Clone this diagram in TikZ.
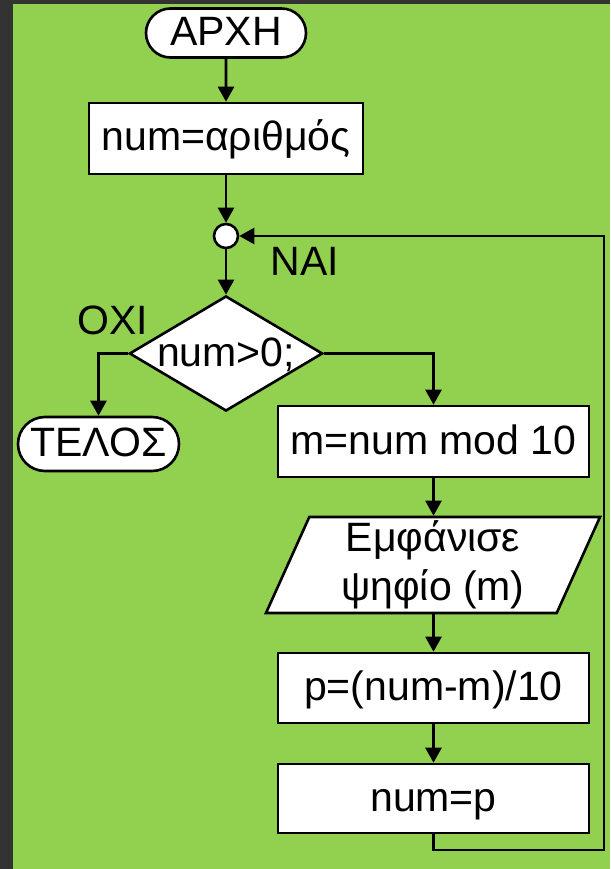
\documentclass[tikz,border=0pt]{standalone}
\usepackage{fontspec}
\setmainfont{Liberation Sans}
\usetikzlibrary{shapes.geometric,shapes.misc,arrows.meta}
\definecolor{bgdark}{HTML}{333333}
\definecolor{bggreen}{HTML}{92D050}
\begin{document}
\begin{tikzpicture}[x=1pt,y=-1pt,
  every node/.style={font=\fontsize{41}{49}\selectfont, inner sep=0pt},
  tx/.style={text height=29pt, text depth=4pt},
  shp/.style={draw=black, fill=white, line width=2.6pt},
  proc/.style={shp, tx, rectangle, minimum width=311pt, minimum height=70pt},
  term/.style={shp, tx, rounded rectangle, minimum height=48pt},
  conn/.style={line width=2.6pt, -{Triangle[length=15pt,width=16pt]}}]
\fill[bgdark] (0,0) rectangle (610,869);
\fill[bggreen] (13,4) rectangle (610,869);
\useasboundingbox (0,0) rectangle (610,869);

\node[term, minimum width=160pt, minimum height=49pt] (start) at (226,33) {ΑΡΧΗ};
\node[proc, minimum width=274pt, minimum height=71pt] (init) at (226,138.5) {num=αριθμός};
\node[shp, circle, minimum size=24pt] (join) at (226,236) {};
\node[shp, tx, diamond, minimum width=190pt, minimum height=113pt, shape aspect=1.68] (cond) at (226,353.5) {num>0;};
\node[term, minimum width=161pt, minimum height=54pt] (end) at (98.5,444) {ΤΕΛΟΣ};
\node[proc, minimum height=71pt] (mod) at (433.5,441.5) {m=num mod 10};
\node[shp, trapezium, trapezium left angle=63.9, trapezium right angle=116.1,
      trapezium stretches body, minimum width=334pt, minimum height=96pt,
      align=center] (show) at (433,565) {Εμφάνισε\\ψηφίο (m)};
\node[proc] (calc) at (433.5,688) {p=(num-m)/10};
\node[proc, minimum height=69pt] (upd) at (433.5,798.5) {num=p};

\node (yes) at (305,261) {ΝΑΙ};
\node (no) at (113,320) {ΟΧΙ};

\coordinate (loopr) at (604,850);

\draw[conn] (start) -- (init);
\draw[conn] (init) -- (join);
\draw[conn] (join) -- (cond);
\draw[conn] (cond.west) -| (end.north);
\draw[conn] (cond.east) -| (mod.north);
\draw[conn] (mod.south) -- (mod.south |- show.north);
\draw[conn] (show.south -| calc.north) -- (calc.north);
\draw[conn] (calc) -- (upd);
\draw[conn] (upd.south) |- (loopr) |- (join.east);
\end{tikzpicture}
\end{document}
